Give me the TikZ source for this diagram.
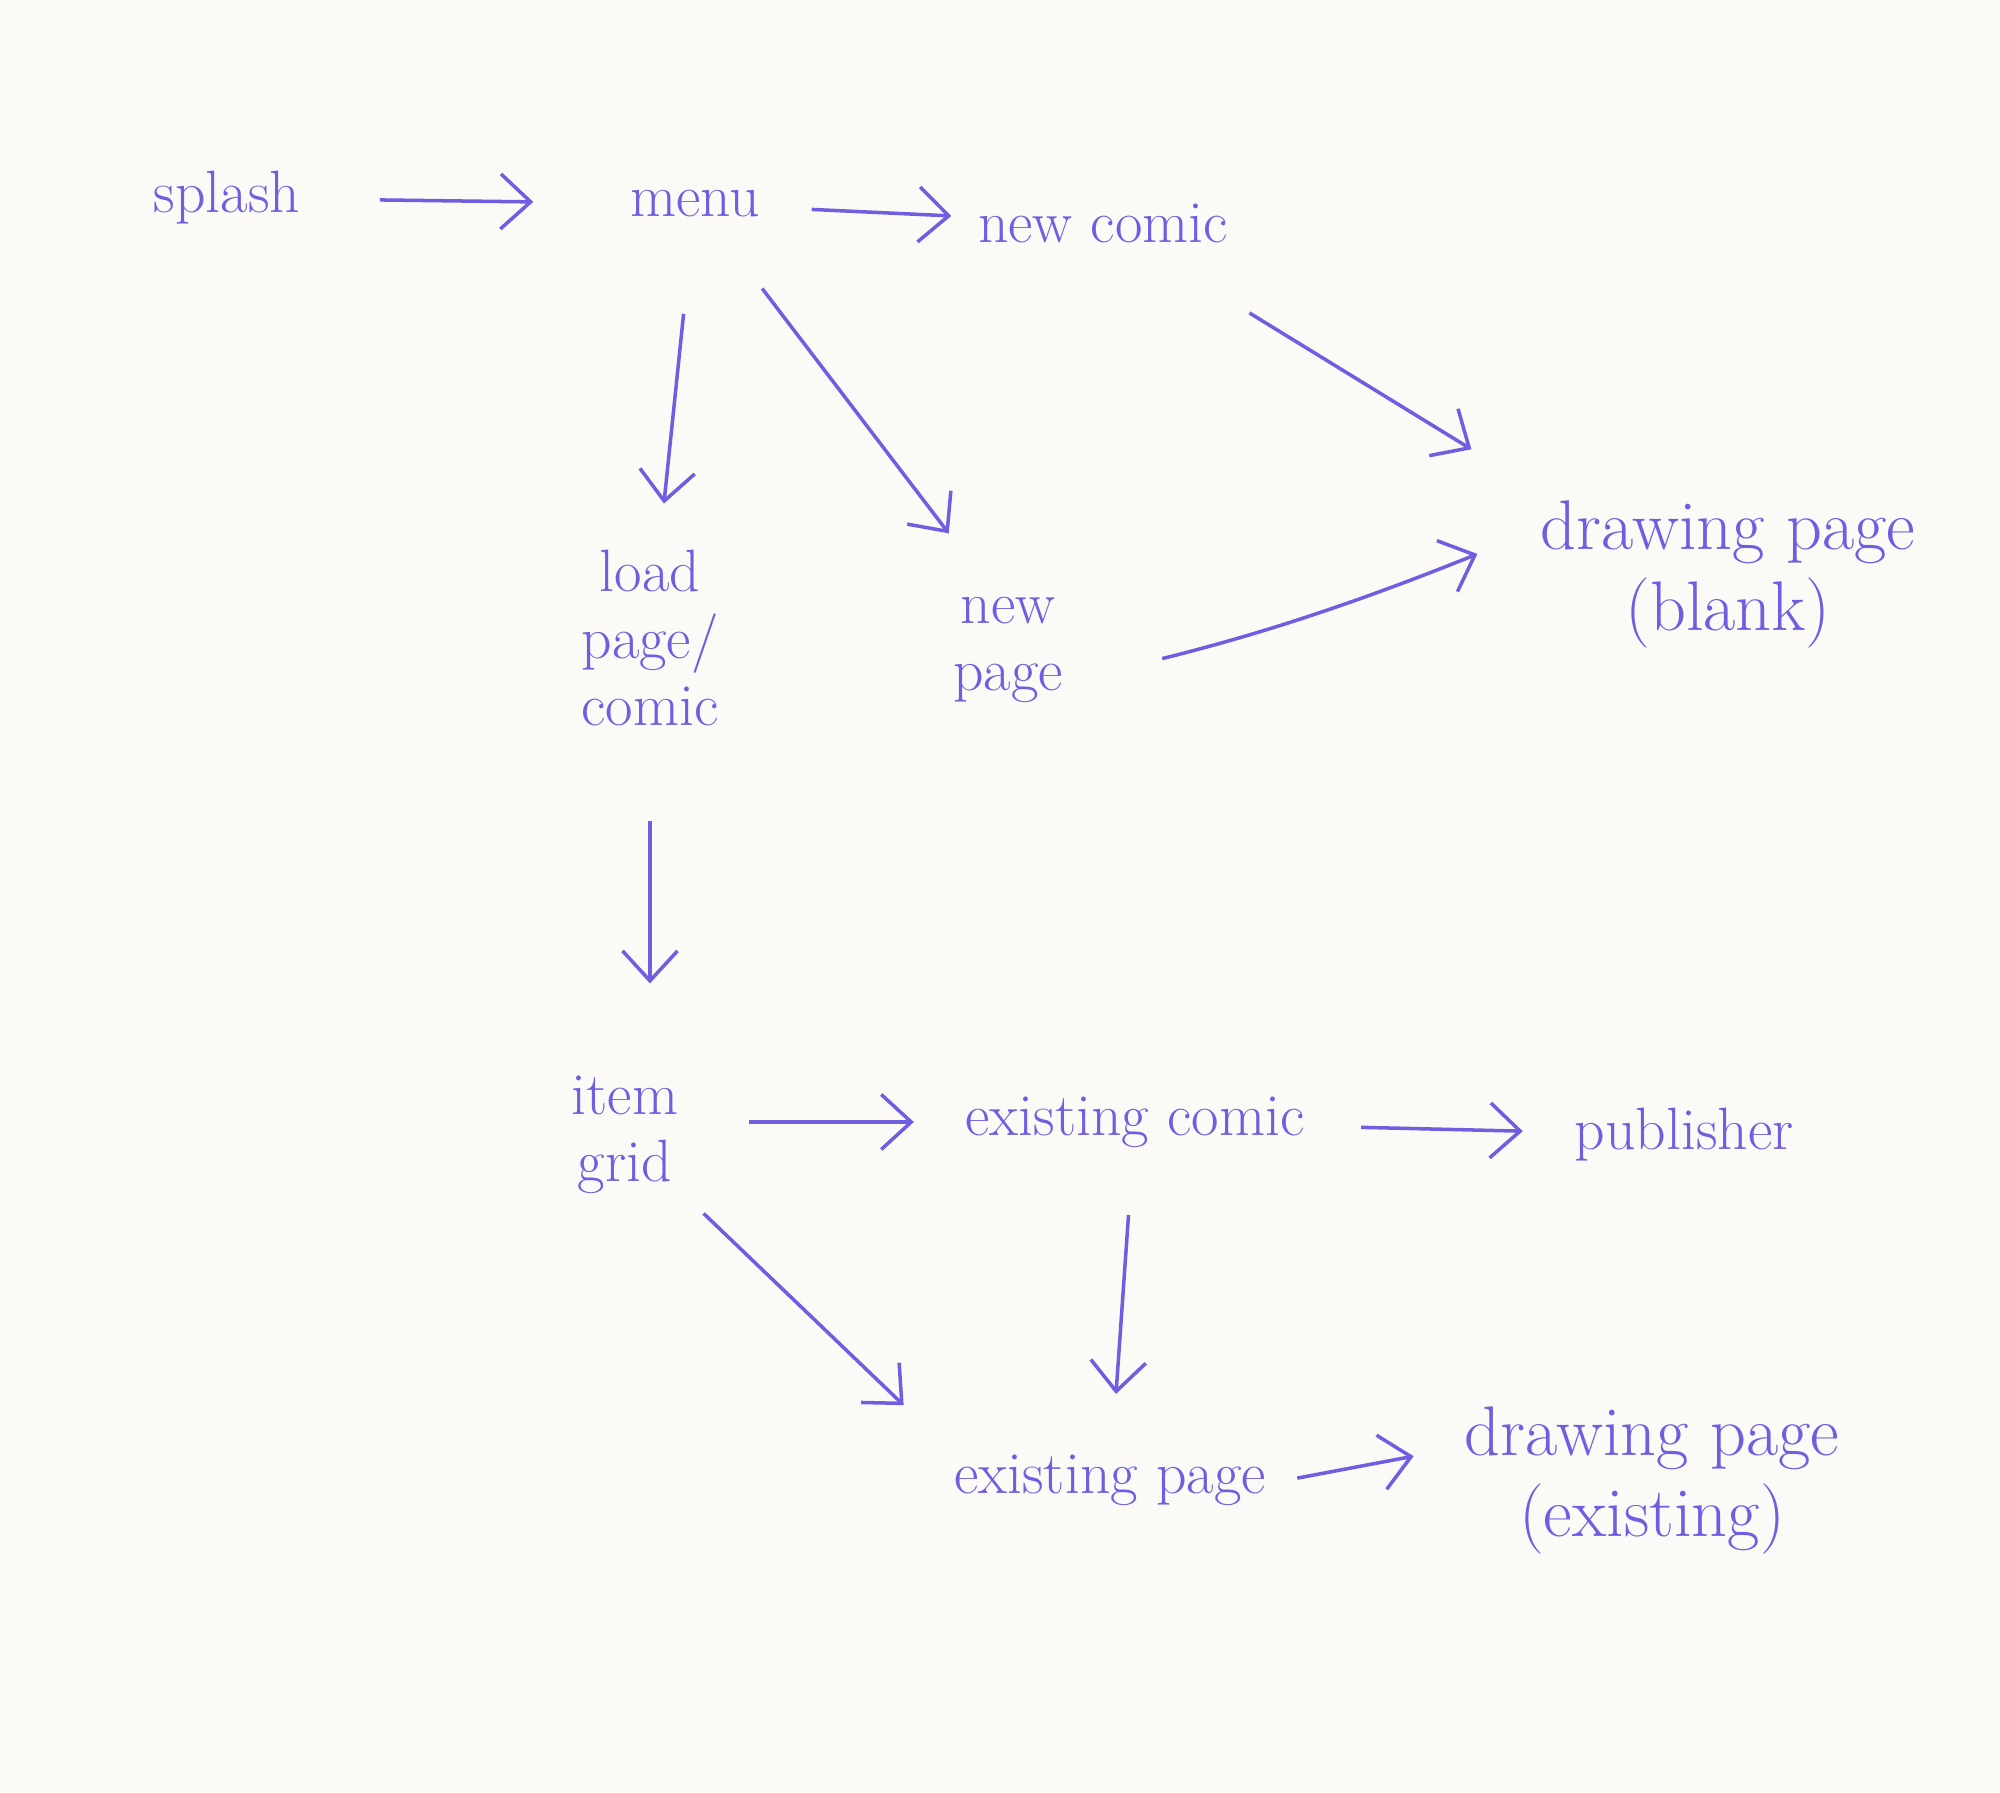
\documentclass[tikz,border=0pt]{standalone}
\usepackage{tikz}
\usetikzlibrary{arrows.meta}

\definecolor{pen}{RGB}{112,94,226}
\definecolor{paper}{RGB}{251,250,246}

\tikzset{
  word/.style={text=pen, font=\fontsize{17}{19}\selectfont, align=center, inner sep=6pt},
  bigword/.style={word, font=\fontsize{20}{23}\selectfont},
  flow/.style={draw=pen, line width=1pt, -{Straight Barb[length=3mm,width=5.5mm]}}
}

\begin{document}
\begin{tikzpicture}
    \fill[paper] (0,0) rectangle (20,17.92);
    \useasboundingbox (0,0) rectangle (20,17.92);

    \node[word] (splash)       at (2.27,15.94) {splash};
    \node[word] (menu)         at (6.95,15.88) {menu};
    \node[word] (newcomic)     at (11.03,15.69) {new comic};
    \node[word] (load)         at (6.50,11.54) {load\\page/\\comic};
    \node[word] (newpage)      at (10.08,11.42) {new\\page};
    \node[bigword] (drawblank) at (17.28,12.18) {drawing page\\(blank)};
    \node[word] (itemgrid)     at (6.25,6.57) {item\\grid};
    \node[word] (excomic)      at (11.35,6.70) {existing comic};
    \node[word] (publisher)    at (16.84,6.57) {publisher};
    \node[word] (expage)       at (11.10,3.12) {existing page};
    \node[bigword] (drawex)    at (16.52,3.12) {drawing page\\(existing)};

    % top row
    \draw[flow, shorten <=5.8mm, shorten >=7.5mm] (splash) -- (menu);
    \draw[flow, shorten <=3mm, shorten >=0.5mm] (menu) -- (newcomic);
    \draw[flow, shorten <=9.3mm, shorten >=5.6mm] (newcomic) -- (drawblank.north west);

    % out of menu
    \draw[flow, shorten <=7.5mm, shorten >=2.5mm] (menu) -- (load);
    \draw[flow, shorten <=6.2mm, shorten >=5.3mm] (menu.-50) -- (newpage.110);
    \draw[flow, shorten <=8mm, shorten >=4.5mm] (newpage.-20) to[bend right=4] (drawblank.170);
    \draw[flow, shorten <=7.3mm, shorten >=7.1mm] (load.south) -- (load.south |- itemgrid.north);

    % lower part
    \draw[flow, shorten <=4.9mm, shorten >=3mm] (itemgrid.east |- excomic.west) -- (excomic.west);
    \draw[flow, shorten <=3.5mm, shorten >=3mm] (excomic) -- (publisher);
    \draw[flow, shorten <=0.5mm, shorten >=4mm] (itemgrid.-45) -- (expage.north west);
    \draw[flow, shorten <=4.6mm, shorten >=3.9mm] (excomic) -- (expage);
    \draw[flow, shorten <=1mm, shorten >=3mm] (expage.east) -- (drawex.172);

\end{tikzpicture}
\end{document}
